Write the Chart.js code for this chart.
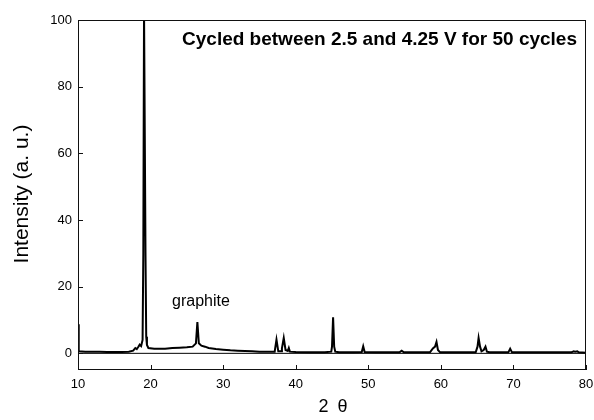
<!DOCTYPE html>
<html>
<head>
<meta charset="utf-8">
<script src="https://cdn.jsdelivr.net/npm/chart.js@4/dist/chart.umd.min.js"></script>
<style>
  html, body { margin: 0; padding: 0; background: #fff; }
  #wrap { width: 594px; height: 420px; }
</style>
</head>
<body>
<div id="wrap"><canvas id="xrd" width="594" height="420"></canvas></div>
<script>
// XRD pattern after cycling: 2-theta positions and intensities
const twoTheta = [
  10.0, 10.1, 11, 12, 13, 14, 15, 16, 17, 17.6, 17.9, 18.1, 18.3, 18.5, 18.7, 18.9,
  19.0, 19.1, 19.2, 19.3, 19.4, 19.5, 19.7, 20.5, 22, 23, 24, 25, 25.8, 26.25, 26.45,
  26.65, 27, 27.5, 28, 29, 30, 31, 32, 33, 34, 35, 36, 37.1, 37.35, 37.6, 38.0, 38.1,
  38.35, 38.6, 38.9, 39.05, 39.2, 40, 42, 44, 44.9, 45.0, 45.15, 45.3, 45.45, 46, 48,
  49.1, 49.3, 49.5, 51, 54.3, 54.6, 54.9, 58.5, 58.9, 59.2, 59.4, 59.6, 59.9, 64.8,
  65.05, 65.2, 65.4, 65.6, 65.9, 66.15, 66.35, 66.7, 69.3, 69.55, 69.8, 78.0, 78.3,
  78.5, 78.8, 79.0, 80
];
const intensity = [
  8.7, 0.6, 0.5, 0.5, 0.45, 0.4, 0.4, 0.4, 0.5, 0.8, 1.6, 1.3, 1.9, 2.6, 2.2, 4,
  30, 103, 103, 30, 5, 2.5, 1.6, 1.4, 1.4, 1.6, 1.7, 1.8, 2.0, 3, 9.4,
  3, 2.3, 2, 1.6, 1.3, 1.1, 0.9, 0.8, 0.7, 0.6, 0.5, 0.45, 0.5, 4.1, 0.6, 0.6, 1.5,
  4.6, 1, 0.7, 1.6, 0.5, 0.4, 0.35, 0.35, 0.5, 2, 10.8, 2, 0.5, 0.35, 0.3,
  0.4, 2.1, 0.4, 0.3, 0.3, 0.8, 0.3, 0.3, 1.5, 2, 3.4, 1, 0.3, 0.3,
  2, 4.6, 2, 0.6, 1, 2, 0.5, 0.3, 0.3, 1.4, 0.3, 0.3, 0.6,
  0.5, 0.6, 0.3, 0.2
];
const xTicks = [10, 20, 30, 40, 50, 60, 70, 80];
const yTicks = [0, 20, 40, 60, 80, 100];
const zeroLine = [0, 0];
const zeroLineX = [10, 80];

const FONT = '"Liberation Sans", Arial, sans-serif';

// frame, inward ticks and text labels
const framePlugin = {
  id: 'frame',
  afterDraw(chart) {
    const { ctx, chartArea: a, scales } = chart;
    ctx.save();
    ctx.strokeStyle = '#111';
    ctx.lineWidth = 1;
    ctx.strokeRect(a.left + 0.5, a.top + 0.5, a.right - a.left - 1, a.bottom - a.top - 1);
    ctx.beginPath();
    xTicks.forEach(v => {
      const px = Math.round(scales.x.getPixelForValue(v)) + 0.5;
      ctx.moveTo(px, a.bottom);
      ctx.lineTo(px, a.bottom - 5);
    });
    yTicks.forEach(v => {
      const py = Math.round(scales.y.getPixelForValue(v)) + 0.5;
      ctx.moveTo(a.left, py);
      ctx.lineTo(a.left + 5, py);
    });
    ctx.stroke();

    ctx.fillStyle = '#000';
    ctx.textBaseline = 'alphabetic';
    ctx.textAlign = 'right';
    ctx.font = 'bold 19px ' + FONT;
    ctx.fillText('Cycled between 2.5 and 4.25 V for 50 cycles', 577, 45);

    ctx.textAlign = 'left';
    ctx.font = '16px ' + FONT;
    ctx.fillText('graphite', 172, 306);

    ctx.textAlign = 'center';
    ctx.font = '18px ' + FONT;
    ctx.fillText('2\u2002\u03b8', 333, 412);

    ctx.translate(28, 194);
    ctx.rotate(-Math.PI / 2);
    ctx.font = '21px ' + FONT;
    ctx.fillText('Intensity (a. u.)', 0, 0);
    ctx.restore();
  }
};

new Chart(document.getElementById('xrd'), {
  type: 'line',
  data: {
    datasets: [
      {
        data: twoTheta.map((t, i) => ({ x: t, y: intensity[i] })),
        borderColor: '#000',
        borderWidth: 2,
        pointRadius: 0,
        tension: 0
      },
      {
        data: zeroLineX.map((t, i) => ({ x: t, y: zeroLine[i] })),
        borderColor: '#000',
        borderWidth: 1,
        pointRadius: 0
      }
    ]
  },
  options: {
    responsive: false,
    animation: false,
    layout: { padding: { top: 20, right: 8, left: 0, bottom: 0 } },
    plugins: { legend: { display: false }, tooltip: { enabled: false } },
    scales: {
      x: {
        type: 'linear',
        min: 10,
        max: 80,
        afterBuildTicks: s => { s.ticks = xTicks.map(v => ({ value: v })); },
        afterFit: s => { s.height = 50; s.paddingLeft = 0; s.paddingRight = 0; },
        grid: { display: false, drawTicks: false },
        border: { display: false },
        ticks: { color: '#000', padding: 7, font: { family: FONT, size: 13 } }
      },
      y: {
        min: -5,
        max: 100,
        afterBuildTicks: s => { s.ticks = yTicks.map(v => ({ value: v })); },
        afterFit: s => { s.width = 78; s.paddingTop = 0; s.paddingBottom = 0; },
        grid: { display: false, drawTicks: false },
        border: { display: false },
        ticks: { color: '#000', padding: 6, font: { family: FONT, size: 13 } }
      }
    }
  },
  plugins: [framePlugin]
});
</script>
</body>
</html>
